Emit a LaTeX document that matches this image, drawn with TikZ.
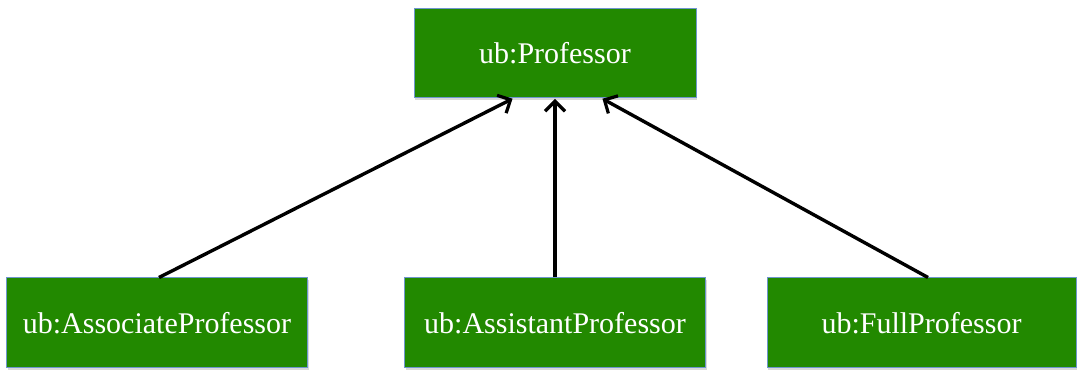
\documentclass[tikz,border=0pt]{standalone}
\usepackage{fontspec}
\setmainfont{Liberation Serif}
\usetikzlibrary{arrows.meta,shadows}
\definecolor{boxgreen}{RGB}{34,137,0}
\definecolor{boxedge}{RGB}{110,150,205}
\tikzset{
  cls/.style={draw=boxedge, line width=1pt, fill=boxgreen, text=white,
    font=\fontsize{30}{36}\selectfont, inner sep=0pt,
    drop shadow={shadow xshift=1pt, shadow yshift=-2pt, fill=black!25, opacity=0.6}},
  isa/.style={line width=3.4pt, -{Straight Barb[length=10pt,width=20pt,line width=3.2pt]}, shorten >=0.5pt}
}
\begin{document}
\begin{tikzpicture}[x=1pt,y=1pt]
\useasboundingbox (0,0) rectangle (1084,371);
\node[cls, minimum width=282pt, minimum height=89pt] (prof) at (555,317.5) {ub:Professor};
\node[cls, minimum width=301pt, minimum height=90pt] (assoc) at (157,48) {ub:AssociateProfessor};
\node[cls, minimum width=301pt, minimum height=90pt] (assist) at (555,48) {ub:AssistantProfessor};
\node[cls, minimum width=309pt, minimum height=90pt] (full) at (921.5,48) {ub:FullProfessor};
\draw[isa] ([xshift=2pt]assoc.north) -- ([xshift=-42pt]prof.south);
\draw[isa] (assist.north) -- (prof.south);
\draw[isa] ([xshift=6.5pt]full.north) -- ([xshift=47pt]prof.south);
\end{tikzpicture}
\end{document}
